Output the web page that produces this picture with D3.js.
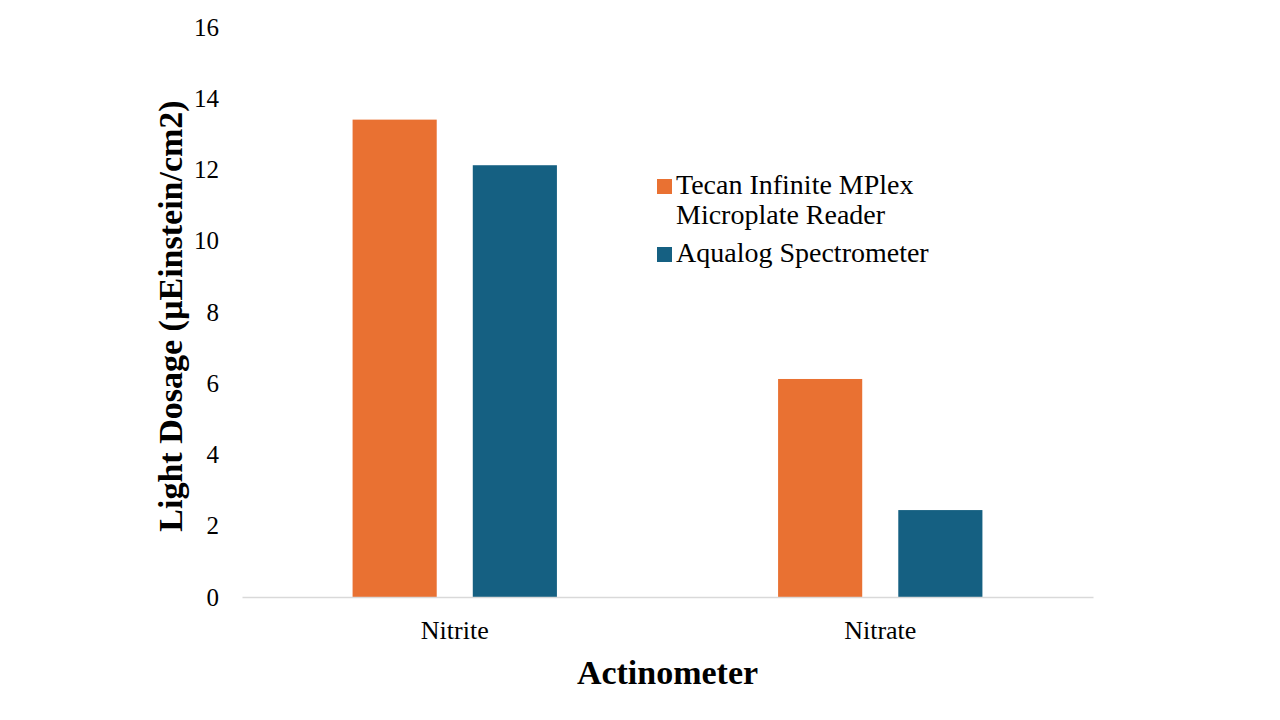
<!DOCTYPE html>
<html>
  <head>
    <meta charset="utf-8">
    <title>Light dosage by actinometer</title>
    <script src="https://cdn.jsdelivr.net/npm/d3@7"></script>
    <style>
      body { margin: 0; background: #fff; }
      #chart { width: 1280px; height: 720px; display: block; font-family: "Liberation Serif", "Times New Roman", serif; }
      .axis text { font-family: "Liberation Serif", "Times New Roman", serif; fill: #000; }
    </style>
  </head>

  <body>
    <svg id="chart" width="1280" height="720">
      <g id="barGroup"></g>
      <g id="yAxisGroup" class="axis"></g>
      <g id="xAxisGroup" class="axis"></g>
      <g id="legendGroup"></g>
    </svg>

    <script>
      // data
      categories = ["Nitrite", "Nitrate"];
      seriesNames = ["Tecan Infinite MPlex\nMicroplate Reader", "Aqualog Spectrometer"];
      seriesColors = ["#E97132", "#156082"];
      tecanValues = [13.4, 6.12];
      aqualogValues = [12.12, 2.44];
      yTicks = [0, 2, 4, 6, 8, 10, 12, 14, 16];

      seriesValues = [tecanValues, aqualogValues];

      // elements
      chart = d3.select("#chart");
      barGroup = d3.select("#barGroup");
      yAxisGroup = d3.select("#yAxisGroup");
      xAxisGroup = d3.select("#xAxisGroup");
      legendGroup = d3.select("#legendGroup");

      width = 1280;
      height = 720;
      margin = {top: 27, bottom: 123, left: 242, right: 187};

      // scales
      x0 = d3.scaleBand()
          .domain(categories)
          .range([margin.left, width - margin.right])
          .padding(0);

      x1 = d3.scaleBand()
          .domain(d3.range(seriesNames.length))
          .range([0, x0.bandwidth()])
          .paddingInner(0.3)
          .paddingOuter(0.92);

      y = d3.scaleLinear()
          .domain([0, 16])
          .range([height - margin.bottom, margin.top]);

      // bars
      barData = [];
      categories.forEach((c, i) => {
        seriesValues.forEach((vals, s) => {
          barData.push({category: c, series: s, value: vals[i]});
        });
      });

      barGroup.selectAll("rect")
          .data(barData)
          .join("rect")
          .attr("x", d => x0(d.category) + x1(d.series))
          .attr("y", d => y(d.value))
          .attr("width", x1.bandwidth())
          .attr("height", d => y(0) - y(d.value))
          .attr("fill", d => seriesColors[d.series]);

      // y axis
      yAxis = d3.axisLeft(y)
          .tickValues(yTicks)
          .tickSize(0)
          .tickPadding(23);

      yAxisGroup.attr("transform", "translate(" + margin.left + ", 0)")
          .call(yAxis);
      yAxisGroup.select(".domain").remove();
      yAxisGroup.selectAll("text").style("font-size", "25px");

      // x axis
      xAxis = d3.axisBottom(x0)
          .tickSize(0)
          .tickPadding(24);

      xAxisGroup.attr("transform", "translate(0, " + (height - margin.bottom) + ")")
          .call(xAxis);
      xAxisGroup.select(".domain")
          .attr("stroke", "#d9d9d9")
          .attr("stroke-width", 1.5);
      xAxisGroup.selectAll("text").style("font-size", "26px");

      // axis titles
      chart.append("text")
          .attr("x", (margin.left + width - margin.right) / 2)
          .attr("y", 684)
          .attr("text-anchor", "middle")
          .style("font-size", "34px")
          .style("font-weight", "bold")
          .text("Actinometer");

      chart.append("text")
          .attr("transform", "translate(182, " + ((margin.top + height - margin.bottom) / 2 + 4) + ") rotate(-90)")
          .attr("text-anchor", "middle")
          .style("font-size", "34px")
          .style("font-weight", "bold")
          .text("Light Dosage (µEinstein/cm2)");

      // legend
      legendRows = [194, 262];
      legendItems = legendGroup.selectAll("g")
          .data(seriesNames)
          .join("g")
          .attr("transform", (d, i) => "translate(657, " + legendRows[i] + ")");

      legendItems.append("rect")
          .attr("x", 0)
          .attr("y", -15)
          .attr("width", 15)
          .attr("height", 15)
          .attr("fill", (d, i) => seriesColors[i]);

      legendItems.append("text")
          .attr("x", 19)
          .style("font-size", "28px")
          .selectAll("tspan")
          .data(d => d.split("\n"))
          .join("tspan")
          .attr("x", 19)
          .attr("dy", (d, i) => i === 0 ? 0 : 30)
          .text(d => d);
    </script>
  </body>
</html>
